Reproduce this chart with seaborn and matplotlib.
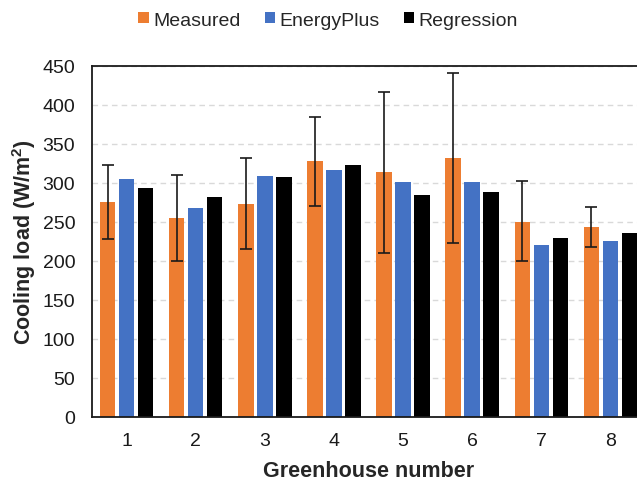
import numpy as np
import pandas as pd
import matplotlib
matplotlib.use("Agg")
import matplotlib.pyplot as plt
import seaborn as sns

# values
greenhouses = ["1", "2", "3", "4", "5", "6", "7", "8"]
measured = [275, 254, 272, 327, 314, 331, 250, 243]
measured_err_low = [227, 199, 215, 270, 210, 223, 200, 217]
measured_err_high = [323, 309, 332, 384, 416, 441, 302, 268]
energyplus = [305, 267, 308, 316, 301, 301, 220, 225]
regression = [293, 282, 307, 323, 284, 288, 229, 235]

series = ["Measured", "EnergyPlus", "Regression"]
colors = ["#ED7D31", "#4472C4", "#000000"]

df = pd.DataFrame({
    "Greenhouse number": greenhouses * 3,
    "load": measured + energyplus + regression,
    "series": [s for s in series for _ in greenhouses],
})

sns.set_style("white")
plt.rcParams["font.family"] = ["Liberation Sans", "DejaVu Sans"]

fig = plt.figure(figsize=(6.37, 4.81), dpi=100)
ax = fig.add_axes([92 / 637, 63.5 / 481, 553 / 637, 351 / 481])

sns.barplot(data=df, x="Greenhouse number", y="load", hue="series",
            hue_order=series, palette=colors, width=0.825, gap=0.18,
            errorbar=None, saturation=1, linewidth=0, ax=ax, zorder=3)

# error bars on the measured bars, placed at the bar centres seaborn drew
bars = ax.containers[0]
xs = [b.get_x() + b.get_width() / 2 for b in bars]
lo = np.array(measured) - np.array(measured_err_low)
hi = np.array(measured_err_high) - np.array(measured)
ax.errorbar(xs, measured, yerr=[lo, hi], fmt="none", ecolor="#1a1a1a",
            elinewidth=1.2, capsize=4, capthick=1.2, zorder=4)

ax.set_xlim(-0.5, 7.5)
ax.set_ylim(0, 450)
ax.set_yticks(range(0, 451, 50))
ax.yaxis.grid(True, color="#d9d9d9", linestyle=(0, (4, 3)), linewidth=1, zorder=0)
ax.xaxis.grid(False)

ax.tick_params(axis="both", length=0, labelsize=14, colors="#1a1a1a")
ax.tick_params(axis="y", pad=12)
ax.tick_params(axis="x", pad=11)

ax.set_xlabel("Greenhouse number", fontsize=15.5, fontweight="bold", labelpad=8)
ax.set_ylabel("Cooling load (W/m$^\\mathregular{2}$)", fontsize=15.5,
              fontweight="bold", labelpad=3)

for side in ["left", "top", "bottom"]:
    ax.spines[side].set_color("#1a1a1a")
    ax.spines[side].set_linewidth(1.3)
    ax.spines[side].set_zorder(5)
ax.spines["right"].set_visible(False)

ax.legend(loc="center", bbox_to_anchor=(328 / 637, 1 - 21 / 481),
          bbox_transform=fig.transFigure, ncol=3, frameon=False, fontsize=14,
          handlelength=0.55, handleheight=0.55, handletextpad=0.2,
          columnspacing=1.25, title=None)

fig.savefig("out.png", dpi=100)
